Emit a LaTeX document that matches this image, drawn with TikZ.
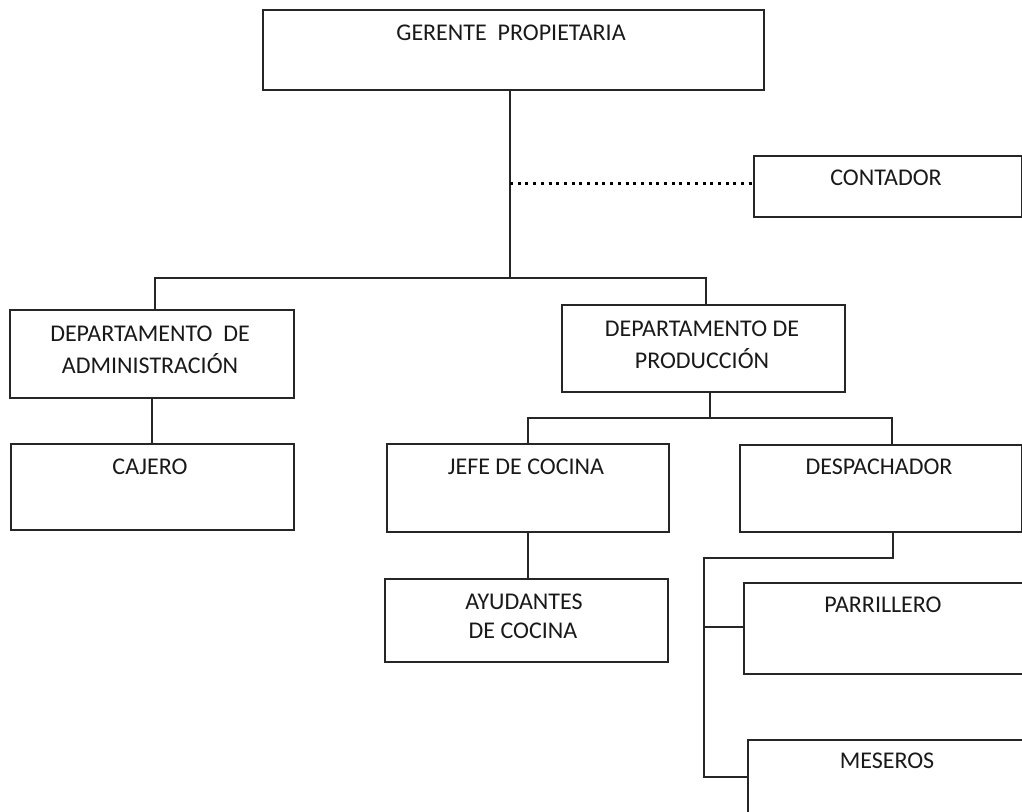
\documentclass[tikz,border=0pt]{standalone}
\usepackage{fontspec}
\setmainfont{Carlito}
\begin{document}
\begin{tikzpicture}[x=1pt,y=-1pt,
  box/.style={draw=black!85, line width=2pt, inner sep=0pt, anchor=north west, rectangle},
  lbl/.style={font=\fontsize{24}{28}\selectfont, anchor=base, text=black!90, inner sep=0pt},
  conn/.style={draw=black!85, line width=2pt},
  dots/.style={draw=black, line width=3pt, dash pattern=on 3pt off 4.7pt}]
\useasboundingbox (0,0) rectangle (1022,811);
% boxes
\node[box, minimum width=501pt, minimum height=80pt] (g) at (262,9) {};
\node[box, minimum width=268pt, minimum height=61pt] (cont) at (753,155) {};
\node[box, minimum width=284pt, minimum height=88pt] (adm) at (9,309) {};
\node[box, minimum width=283pt, minimum height=87pt] (prod) at (561,304) {};
\node[box, minimum width=283pt, minimum height=86pt] (caj) at (10,443) {};
\node[box, minimum width=282pt, minimum height=88pt] (jefe) at (386,443) {};
\node[box, minimum width=282pt, minimum height=87pt] (desp) at (739,444) {};
\node[box, minimum width=283pt, minimum height=83pt] (ayud) at (384,578) {};
\node[box, minimum width=285pt, minimum height=91pt] (parr) at (743,582) {};
\node[box, minimum width=285pt, minimum height=100pt] (mes) at (747,739) {};
% texts
\node[lbl] (tg) at (511,40) {GERENTE~\ PROPIETARIA};
\node[lbl] (tc) at (886,185) {CONTADOR};
\node[lbl] (ta1) at (150,341) {DEPARTAMENTO~\ DE};
\node[lbl] (ta2) at (150,373) {ADMINISTRACIÓN};
\node[lbl] (tcj) at (150,474) {CAJERO};
\node[lbl] (tp1) at (702,336) {DEPARTAMENTO DE};
\node[lbl] (tp2) at (702,368) {PRODUCCIÓN};
\node[lbl] (tj) at (526,474) {JEFE DE COCINA};
\node[lbl] (td) at (879,474) {DESPACHADOR};
\node[lbl] (ty1) at (524,609) {AYUDANTES};
\node[lbl] (ty2) at (523,638) {DE COCINA};
\node[lbl] (tr) at (883,612) {PARRILLERO};
\node[lbl] (tm) at (887,768) {MESEROS};
% connectors
\coordinate (j0) at (510,278);
\coordinate (ja) at (155,278);
\coordinate (jp) at (706,278);
\coordinate (jd) at (510,183);
\draw[conn] (g.south -| j0) -- (j0);
\draw[conn] (ja |- adm.north) -- (ja) -- (jp) -- (jp |- prod.north);
\draw[dots] (jd) -- (jd -| cont.west);
\coordinate (xa) at (152,0);
\draw[conn] (xa |- adm.south) -- (xa |- caj.north);
\coordinate (jq) at (710,418);
\coordinate (jj) at (528,418);
\coordinate (jdp) at (892,418);
\draw[conn] (jq |- prod.south) -- (jq);
\draw[conn] (jj |- jefe.north) -- (jj) -- (jdp) -- (jdp |- desp.north);
\draw[conn] (jj |- jefe.south) -- (jj |- ayud.north);
\coordinate (k1) at (893,558);
\coordinate (k2) at (704,558);
\coordinate (k3) at (704,777);
\coordinate (k4) at (704,627);
\draw[conn] (k1 |- desp.south) -- (k1) -- (k2) -- (k3) -- (k3 -| mes.west);
\draw[conn] (k4) -- (k4 -| parr.west);
\end{tikzpicture}
\end{document}
